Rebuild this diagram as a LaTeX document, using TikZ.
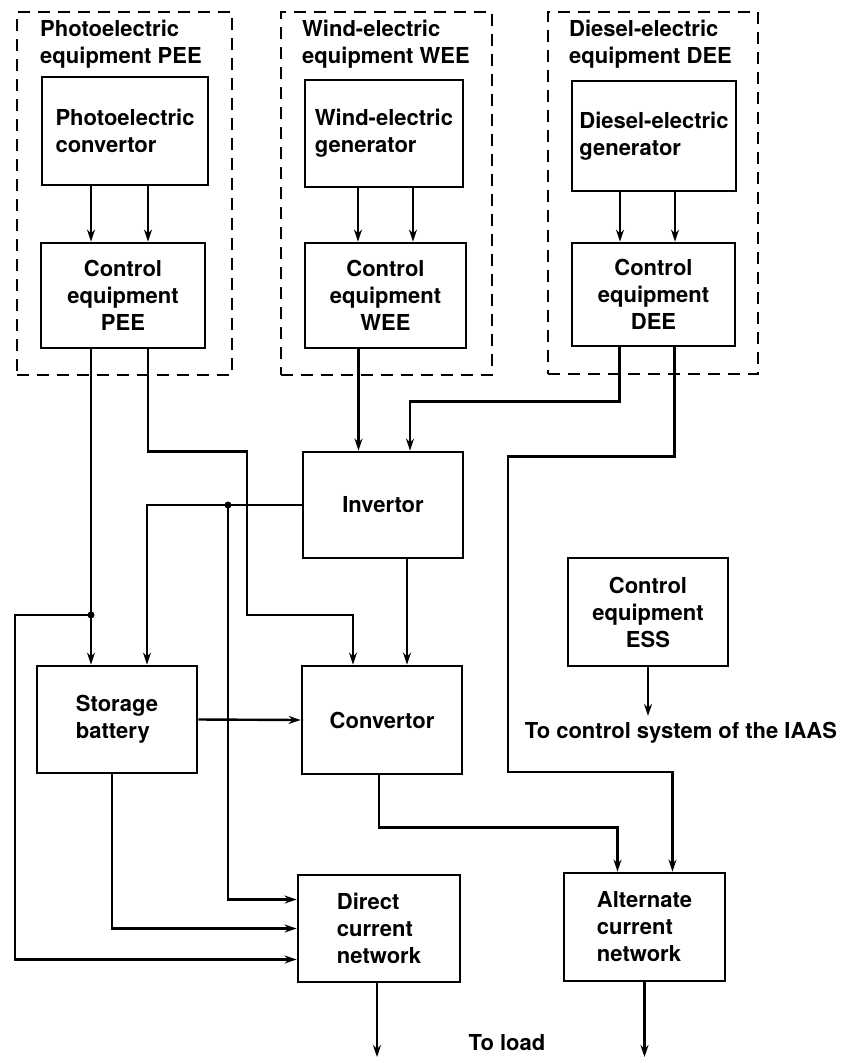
\documentclass[tikz,border=0pt]{standalone}
\usepackage{fontspec}
\setmainfont{TeX Gyre Heros}
\usepackage{tikz}
\usetikzlibrary{arrows.meta}

\begin{document}
\begin{tikzpicture}[x=1pt,y=-1pt,
    every node/.style={font=\bfseries\fontsize{22}{27}\selectfont},
    blk/.style={draw, line width=2.8pt, minimum width=161pt, minimum height=107pt, inner sep=0pt},
    grp/.style={draw, line width=2.3pt, dash pattern=on 12pt off 8pt, inner sep=0pt},
    wire/.style={line width=2.4pt, -{Stealth[length=12pt,width=8pt]}},
    ttl/.style={anchor=north west, align=left, inner sep=0pt}]
    \useasboundingbox (0,0) rectangle (855,1063);

    % Dashed equipment groups
    \node[grp, minimum width=215pt, minimum height=363pt] (gpee) at (124.5,193.5) {};
    \node[grp, minimum width=211pt, minimum height=363pt] (gwee) at (386.5,193.5) {};
    \node[grp, minimum width=210pt, minimum height=362pt] (gdee) at (653,193) {};
    \node[ttl] (tpee) at (40,20) {Photoelectric\\equipment PEE};
    \node[ttl] (twee) at (302,20) {Wind-electric\\equipment WEE};
    \node[ttl] (tdee) at (569,20) {Diesel-electric\\equipment DEE};

    % Generators
    \node[blk, align=left, minimum width=166pt, minimum height=108pt] (pconv) at (125,131) {Photoelectric\\convertor};
    \node[blk, align=left, minimum width=158pt] (wgen) at (384,133.5) {Wind-electric\\generator};
    \node[blk, align=left, minimum width=164pt, minimum height=110pt] (dgen) at (654,136) {Diesel-electric\\generator};

    % Control equipment
    \node[blk, align=center, minimum width=164pt, minimum height=105pt] (pctl) at (123,295.5) {Control\\equipment\\PEE};
    \node[blk, align=center, minimum height=105pt] (wctl) at (385.5,295.5) {Control\\equipment\\WEE};
    \node[blk, align=center, minimum width=163pt, minimum height=103pt] (dctl) at (653.5,294.5) {Control\\equipment\\DEE};

    % Middle blocks
    \node[blk, minimum width=160pt, minimum height=106pt] (inv) at (383,505) {Invertor};
    \node[blk, align=left, minimum width=160pt] (bat) at (117,719.5) {Storage\\battery};
    \node[blk, minimum width=160pt, minimum height=108pt] (conv) at (382,720) {Convertor\\[14pt]};
    \node[blk, align=center, minimum width=160pt, minimum height=108pt] (ess) at (648,612) {Control\\equipment\\ESS};

    % Networks
    \node[blk, align=left, minimum width=162pt] (dcn) at (379,928.5) {Direct\\current\\network};
    \node[blk, align=left, minimum height=108pt] (acn) at (644.5,927) {Alternate\\current\\network};

    % Outside texts
    \node (ctlsys) at (681,733) {To control system of the IAAS};
    \node (load) at (507,1043) {To load};
    \coordinate (dcout) at (377,1057);
    \coordinate (acout) at (640,1057);
    \coordinate (j1) at (91,615);
    \coordinate (j2) at (228,505);

    % Inside the groups
    \draw[wire] ([xshift=-34pt]pconv.south) -- ([xshift=-34pt]pconv.south |- pctl.north);
    \draw[wire] ([xshift=23pt]pconv.south) -- ([xshift=23pt]pconv.south |- pctl.north);
    \draw[wire] ([xshift=-26pt]wgen.south) -- ([xshift=-26pt]wgen.south |- wctl.north);
    \draw[wire] ([xshift=29pt]wgen.south) -- ([xshift=29pt]wgen.south |- wctl.north);
    \draw[wire] ([xshift=-34pt]dgen.south) -- ([xshift=-34pt]dgen.south |- dctl.north);
    \draw[wire] ([xshift=21pt]dgen.south) -- ([xshift=21pt]dgen.south |- dctl.north);

    % From the control equipment
    \draw[wire] ([xshift=-32pt]pctl.south) -- ([xshift=-32pt]pctl.south |- bat.north);
    \draw[wire] ([xshift=25pt]pctl.south) -- ++(0,102) -| (247,615) -| ([xshift=-29pt]conv.north);
    \draw[wire] ([xshift=-27pt]wctl.south) -- ([xshift=-27pt]wctl.south |- inv.north);
    \draw[wire] ([xshift=-34pt]dctl.south) -- ++(0,54) -| ([xshift=27pt]inv.north);
    \draw[wire] ([xshift=21pt]dctl.south) -- ++(0,109) -| (508,772) -| ([xshift=28pt]acn.north);

    % Invertor, battery and convertor
    \draw[wire] (inv.west) -| ([xshift=30pt]bat.north);
    \draw[wire] ([xshift=24pt]inv.south) -- ([xshift=24pt]inv.south |- conv.north);
    \draw[wire] (bat.east) -- (conv.west);
    \draw[wire] ([xshift=-3pt]conv.south) -- ++(0,52) -| ([xshift=-27pt]acn.north);

    % Feeding the DC network
    \draw[wire] (j2) |- ([yshift=29pt]dcn.west);
    \draw[wire] ([xshift=-5pt]bat.south) |- (dcn.west);
    \draw[wire] (j1) -- (15,615) |- ([yshift=-31pt]dcn.west);
    \fill (j1) circle (3.5pt);
    \fill (j2) circle (3.5pt);

    % Outputs
    \draw[wire] ([xshift=-2pt]dcn.south) -- (dcout);
    \draw[wire] (acn.south) -- (acn.south |- acout);
    \draw[wire, shorten >=3pt] (ess.south) -- (ess.south |- ctlsys.north);
\end{tikzpicture}
\end{document}
